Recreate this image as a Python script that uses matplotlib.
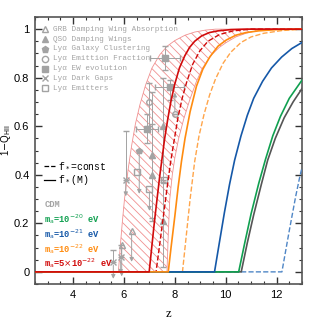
import matplotlib.pyplot as plt
from matplotlib.ticker import MultipleLocator

# model curves: neutral fraction 1-Q_HII vs redshift
red_solid_z = [2.5, 6.99, 7.1, 7.2, 7.3, 7.4, 7.5, 7.6, 7.73, 7.85, 8.0, 8.18, 8.39,
               8.58, 8.78, 9.05, 9.36, 9.7, 10.2, 10.8, 13.0]
red_solid_v = [0, 0, 0.11, 0.21, 0.30, 0.39, 0.47, 0.55, 0.635, 0.705, 0.775, 0.84, 0.89,
               0.925, 0.95, 0.972, 0.986, 0.993, 0.998, 1.0, 1.0]
red_dash_z = [2.5, 7.26, 7.4, 7.55, 7.7, 7.83, 7.93, 8.13, 8.3, 8.46, 8.7, 8.98, 9.3,
              9.76, 10.3, 11.0, 13.0]
red_dash_v = [0, 0, 0.11, 0.23, 0.35, 0.45, 0.515, 0.64, 0.72, 0.78, 0.855, 0.91, 0.95,
              0.978, 0.993, 1.0, 1.0]
orange_solid_z = [2.5, 7.74, 7.85, 8.0, 8.13, 8.26, 8.4, 8.6, 8.85, 9.1, 9.37, 9.7, 10.02,
                  10.4, 10.8, 11.3, 12.0, 13.0]
orange_solid_v = [0, 0, 0.10, 0.23, 0.35, 0.455, 0.55, 0.66, 0.765, 0.835, 0.885, 0.93,
                  0.955, 0.975, 0.986, 0.993, 0.998, 1.0]
orange_dash_z = [2.5, 8.30, 8.45, 8.6, 8.78, 8.95, 9.15, 9.37, 9.6, 9.9, 10.2, 10.6, 11.0,
                 11.5, 12.2, 13.0]
orange_dash_v = [0, 0, 0.15, 0.30, 0.455, 0.56, 0.65, 0.73, 0.795, 0.86, 0.905, 0.945,
                 0.968, 0.983, 0.994, 1.0]
blue_solid_z = [2.5, 9.56, 9.75, 9.95, 10.15, 10.35, 10.6, 10.85, 11.1, 11.45, 11.8, 12.2,
                12.6, 13.0]
blue_solid_v = [0, 0, 0.12, 0.245, 0.36, 0.46, 0.56, 0.645, 0.715, 0.785, 0.84, 0.885,
                0.92, 0.945]
blue_dash_z = [2.5, 12.21, 12.5, 12.75, 12.915, 13.0]
blue_dash_v = [0, 0, 0.17, 0.31, 0.393, 0.43]
green_z = [2.5, 10.51, 10.75, 11.0, 11.3, 11.56, 11.85, 12.15, 12.5, 12.8, 13.0]
green_v = [0, 0, 0.12, 0.24, 0.365, 0.462, 0.56, 0.64, 0.715, 0.76, 0.79]
cdm_z = [2.5, 10.61, 10.85, 11.1, 11.4, 11.65, 11.95, 12.3, 12.65, 13.0]
cdm_v = [0, 0, 0.12, 0.235, 0.36, 0.46, 0.55, 0.635, 0.70, 0.755]

# hatched band edges
band_left_z = [5.78, 5.85, 5.93, 6.02, 6.16, 6.3, 6.45, 6.63, 6.85, 7.1, 7.41, 7.7, 8.0,
               8.4, 8.78, 9.2, 9.6, 13.0]
band_left_v = [0, 0.1, 0.2, 0.3, 0.42, 0.52, 0.61, 0.69, 0.77, 0.84, 0.895, 0.93, 0.953,
               0.975, 0.988, 0.996, 1.0, 1.0]
band_right_z = [7.69, 7.74, 7.8, 7.9, 8.0, 8.15, 8.35, 8.59, 8.85, 9.09, 9.45, 9.75, 10.02,
                10.4, 10.8, 11.2, 11.6, 13.0]
band_right_v = [0, 0.15, 0.3, 0.4, 0.47, 0.55, 0.63, 0.71, 0.785, 0.84, 0.895, 0.925,
                0.945, 0.968, 0.983, 0.993, 1.0, 1.0]

# observational constraints
grb_z = [5.91, 6.3]
grb_v = [0.11, 0.17]
qso_z = [7.09, 7.09, 7.54, 7.54]
qso_v = [0.40, 0.48, 0.60, 0.21]
qso_lo = [0.19, 0.26, 0.23, 0.19]
qso_hi = [0.21, 0.26, 0.20, 0.17]
clus_z = [6.6]
clus_v = [0.5]
emfrac_z = [7.0, 8.0]
emfrac_v = [0.70, 0.65]
emfrac_lo = [0.10, 0.0]
emfrac_hi = [0.08, 0.0]
ew_z = [6.89, 7.61, 7.79]
ew_v = [0.59, 0.88, 0.76]
ew_zerr = [0.43, 0.6, 0.58]
ew_lo = [0.06, 0.05, 0.05]
ew_hi = [0.06, 0.05, 0.03]
gaps_z = [5.58, 5.87, 6.07]
gaps_v = [0.04, 0.06, 0.38]
gaps_hi = [0.05, 0.05, 0.20]
lae_z = [6.5, 7.0, 7.57]
lae_v = [0.41, 0.34, 0.38]

legend_labels = ["GRB Damping Wing Absorption", "QSO Damping Wings",
                 "Ly\u03b1 Galaxy Clustering", "Ly\u03b1 Emittion Fraction",
                 "Ly\u03b1 EW evolution", "Ly\u03b1 Dark Gaps", "Ly\u03b1 Emitters"]
mass_labels = ["CDM", r"m$_{\rm a}$=10$^{-20}$ eV", r"m$_{\rm a}$=10$^{-21}$ eV",
               r"m$_{\rm a}$=10$^{-22}$ eV", r"m$_{\rm a}$=5$\times$10$^{-22}$ eV"]

GRAY = "#a3a3a3"
RED = "#d10a0a"
ORANGE = "#ff8c10"
BLUE = "#1558a8"
GREEN = "#10a050"
CDMC = "#555555"

plt.rcParams["hatch.linewidth"] = 0.6

fig = plt.figure(figsize=(3.19, 3.19), dpi=100)
ax = fig.add_axes([0.1097, 0.1097, 0.837, 0.837])

# hatched band
ax.fill(band_left_z + band_right_z[::-1], band_left_v + band_right_v[::-1],
        facecolor="none", edgecolor="#f09090", hatch="\\\\\\\\", lw=0.6, zorder=1)

# data points
def pts(z, v, marker, mfc, **kw):
    ax.errorbar(z, v, fmt=marker, color=GRAY, mfc=mfc, mec=GRAY, ms=4,
                elinewidth=0.7, capsize=2.5, zorder=2, **kw)

def arrow(z, v, dv):
    for zz, vv in zip(z, v):
        ax.annotate("", xy=(zz, vv + dv), xytext=(zz, vv),
                    arrowprops=dict(arrowstyle="-|>", color=GRAY, lw=0.7,
                                    mutation_scale=6), zorder=2)

pts(grb_z, grb_v, "^", "none")
arrow(grb_z, grb_v, -0.14)
pts(qso_z, qso_v, "^", GRAY, yerr=[qso_lo, qso_hi])
pts(clus_z, clus_v, "p", GRAY)
arrow(clus_z, clus_v, -0.19)
pts(emfrac_z, emfrac_v, "o", "none", yerr=[emfrac_lo, emfrac_hi])
arrow(emfrac_z[1:], emfrac_v[1:], 0.1)
pts(ew_z, ew_v, "s", GRAY, xerr=ew_zerr, yerr=[ew_lo, ew_hi])
pts(gaps_z, gaps_v, "x", GRAY, yerr=[[0, 0, 0], gaps_hi])
arrow(gaps_z, gaps_v, -0.08)
pts(lae_z, lae_v, "s", "none")
arrow(lae_z[1:2], lae_v[1:2], -0.1)

# model curves, CDM at the back and red on top
ax.plot(blue_dash_z, blue_dash_v, "--", color="#4f86c6", lw=1.0, zorder=3)
ax.plot(orange_dash_z, orange_dash_v, "--", color="#ffa54a", lw=1.0, zorder=3)
ax.plot(red_dash_z, red_dash_v, "--", color=RED, lw=1.0, zorder=3)
ax.plot(cdm_z, cdm_v, color=CDMC, lw=1.2, zorder=4)
ax.plot(green_z, green_v, color=GREEN, lw=1.2, zorder=4)
ax.plot(blue_solid_z, blue_solid_v, color=BLUE, lw=1.2, zorder=4)
ax.plot(orange_solid_z, orange_solid_v, color=ORANGE, lw=1.2, zorder=4)
ax.plot(red_solid_z, red_solid_v, color=RED, lw=1.2, zorder=4)

ax.set_xlim(2.5, 13)
ax.set_ylim(-0.05, 1.05)
ax.xaxis.set_major_locator(MultipleLocator(2))
ax.xaxis.set_minor_locator(MultipleLocator(0.5))
ax.yaxis.set_major_locator(MultipleLocator(0.2))
ax.yaxis.set_minor_locator(MultipleLocator(0.05))
ax.yaxis.set_major_formatter(plt.FuncFormatter(lambda y, p: f"{y:g}"))
ax.tick_params(which="both", direction="in", top=True, right=True, color="#333333")
ax.tick_params(which="major", length=5, width=1.0, labelsize=8, pad=4)
ax.tick_params(which="minor", length=2.5, width=0.8)
for lab in ax.get_xticklabels() + ax.get_yticklabels():
    lab.set_fontfamily("Liberation Sans")
for sp in ax.spines.values():
    sp.set_color("#555555")
    sp.set_linewidth(1.2)

ax.set_xlabel("z", family="Liberation Serif", fontsize=9, labelpad=6)
ax.set_ylabel(r"1$-$Q$_{\rm HII}$", family="Liberation Sans", fontsize=7)
ax.yaxis.set_label_coords(-0.082, 0.54)

# legend of observations
markers = [("^", "none"), ("^", GRAY), ("p", GRAY), ("o", "none"),
           ("s", GRAY), ("x", GRAY), ("s", "none")]
for i, (lab, (m, fc)) in enumerate(zip(legend_labels, markers)):
    y = 0.954 - i * 0.0368
    ax.plot([0.039], [y], m, transform=ax.transAxes, color=GRAY, mfc=fc,
            mec=GRAY, ms=4.5, clip_on=False)
    ax.text(0.068, y, lab, transform=ax.transAxes, color=GRAY, fontsize=5.5,
            family="Liberation Mono", va="center")

# legend of line styles
ax.plot([0.034, 0.075], [0.442, 0.442], "--", color="k", lw=0.9, transform=ax.transAxes)
ax.plot([0.034, 0.075], [0.3895, 0.3895], "-", color="k", lw=0.9, transform=ax.transAxes)
ax.text(0.086, 0.442, r"f$_*$=const", transform=ax.transAxes, fontsize=7,
        family="Liberation Mono", va="center")
ax.text(0.086, 0.3895, r"f$_*$(M)", transform=ax.transAxes, fontsize=7,
        family="Liberation Mono", va="center")

# legend of masses
for lab, col, y in zip(mass_labels, [GRAY, GREEN, BLUE, ORANGE, RED],
                       [0.298, 0.244, 0.187, 0.131, 0.077]):
    ax.text(0.035, y, lab, transform=ax.transAxes, color=col, fontsize=6.3,
            family="Liberation Mono", va="center", weight="bold")

fig.savefig("out.png", dpi=100)
